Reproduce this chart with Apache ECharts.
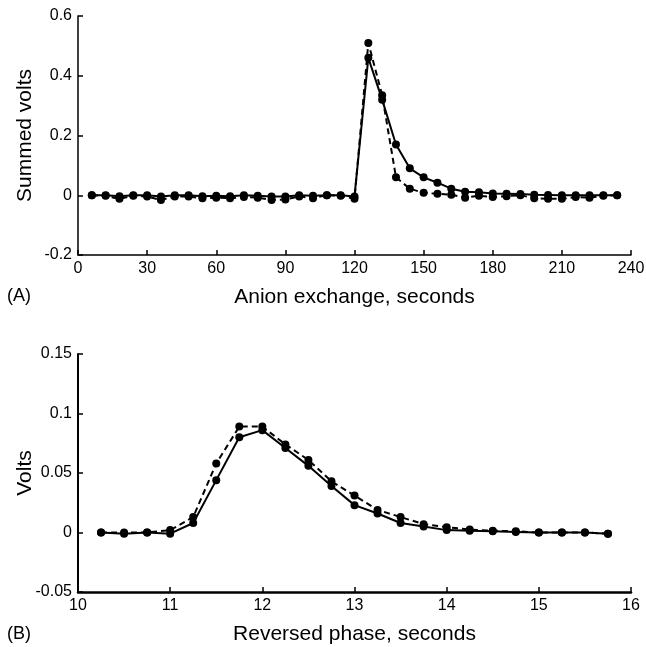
<!DOCTYPE html>
<html>
<head>
<meta charset="utf-8">
<script src="https://cdn.jsdelivr.net/npm/echarts@6/dist/echarts.min.js"></script>
<style>
  html, body { margin: 0; padding: 0; background: #fff; }
  #chart { width: 646px; height: 647px; }
</style>
</head>
<body>
<div id="chart"></div>
<script>
// (A) anion exchange, seconds
const anionTime = [6, 12, 18, 24, 30, 36, 42, 48, 54, 60, 66, 72, 78, 84, 90, 96, 102, 108, 114, 120,
  126, 132, 138, 144, 150, 156, 162, 168, 174, 180, 186, 192, 198, 204, 210, 216, 222, 228, 234];
const anionSolid = [0, 0, -0.003, 0, 0, -0.004, 0, 0, -0.003, -0.002, -0.003, 0, -0.002, -0.004, -0.004, 0, -0.002, 0, 0, -0.004,
  0.46, 0.32, 0.17, 0.09, 0.06, 0.042, 0.022, 0.012, 0.01, 0.006, 0.005, 0.004, 0.002, 0.001, 0, 0, 0, 0, 0];
const anionDashed = [0, -0.002, -0.012, -0.002, -0.004, -0.016, -0.004, -0.004, -0.01, -0.008, -0.01, -0.006, -0.008, -0.016, -0.014, -0.004, -0.01, 0, -0.002, -0.012,
  0.51, 0.335, 0.06, 0.022, 0.008, 0.005, 0.002, -0.008, -0.002, -0.006, -0.003, 0, -0.01, -0.012, -0.012, -0.006, -0.008, -0.002, 0];

// (B) reversed phase, seconds
const rpTime = [10.25, 10.5, 10.75, 11, 11.25, 11.5, 11.75, 12, 12.25, 12.5, 12.75, 13,
  13.25, 13.5, 13.75, 14, 14.25, 14.5, 14.75, 15, 15.25, 15.5, 15.75];
const rpSolid = [0, -0.001, 0, -0.001, 0.008, 0.044, 0.080, 0.086, 0.071, 0.056, 0.039, 0.023,
  0.016, 0.008, 0.005, 0.002, 0.0015, 0.001, 0.0005, 0, 0, 0, -0.001];
const rpDashed = [0, 0, 0, 0.002, 0.013, 0.058, 0.089, 0.089, 0.074, 0.061, 0.043, 0.031,
  0.019, 0.013, 0.007, 0.0045, 0.0025, 0.0015, 0.001, 0, 0, 0, -0.001];

const font = 'Liberation Sans, Arial, Helvetica, sans-serif';
const pair = (xs, ys) => xs.map((x, i) => [x, ys[i]]);
const fmt = v => (Math.abs(v) < 1e-9 ? '0' : String(+v.toFixed(2)));

const axisBase = (lineWidth) => ({
  axisLine: { show: true, onZero: false, lineStyle: { color: '#000', width: lineWidth } },
  axisTick: { show: true, inside: true, length: 5, lineStyle: { color: '#000', width: 1.5 } },
  axisLabel: { color: '#000', fontSize: 16, fontFamily: font, margin: 6, formatter: fmt },
  splitLine: { show: false },
  nameMoveOverlap: false,
  nameTextStyle: { color: '#000', fontSize: 21, fontFamily: font }
});

const lineSeries = (name, x, y, data, dashed) => ({
  name: name,
  type: 'line',
  xAxisIndex: x,
  yAxisIndex: y,
  data: data,
  symbol: 'circle',
  symbolSize: 8,
  itemStyle: { color: '#000' },
  lineStyle: { color: '#000', width: 2, type: dashed ? [6, 4] : 'solid' },
  animation: false
});

const chart = echarts.init(document.getElementById('chart'));

chart.setOption({
  backgroundColor: '#fff',
  grid: [
    { left: 78, right: 15, top: 16, height: 239, outerBoundsMode: 'none' },
    { left: 78, right: 15, top: 354, height: 238, outerBoundsMode: 'none' }
  ],
  xAxis: [
    Object.assign(axisBase(1.5), {
      gridIndex: 0, type: 'value', min: 0, max: 240, interval: 30,
      name: 'Anion exchange, seconds', nameLocation: 'middle', nameGap: 32
    }),
    Object.assign(axisBase(2.5), {
      gridIndex: 1, type: 'value', min: 10, max: 16, interval: 1,
      name: 'Reversed phase, seconds', nameLocation: 'middle', nameGap: 32
    })
  ],
  yAxis: [
    Object.assign(axisBase(1.5), {
      gridIndex: 0, type: 'value', min: -0.2, max: 0.6, interval: 0.2,
      name: 'Summed volts', nameLocation: 'middle', nameGap: 42
    }),
    Object.assign(axisBase(2), {
      gridIndex: 1, type: 'value', min: -0.05, max: 0.15, interval: 0.05,
      name: 'Volts', nameLocation: 'middle', nameGap: 42
    })
  ],
  graphic: [
    { type: 'text', left: 7, top: 287, style: { text: '(A)', fill: '#000', font: '18px ' + font } },
    { type: 'text', left: 7, top: 625, style: { text: '(B)', fill: '#000', font: '18px ' + font } }
  ],
  series: [
    lineSeries('solid A', 0, 0, pair(anionTime, anionSolid), false),
    lineSeries('dashed A', 0, 0, pair(anionTime, anionDashed), true),
    lineSeries('solid B', 1, 1, pair(rpTime, rpSolid), false),
    lineSeries('dashed B', 1, 1, pair(rpTime, rpDashed), true)
  ]
});
</script>
</body>
</html>
